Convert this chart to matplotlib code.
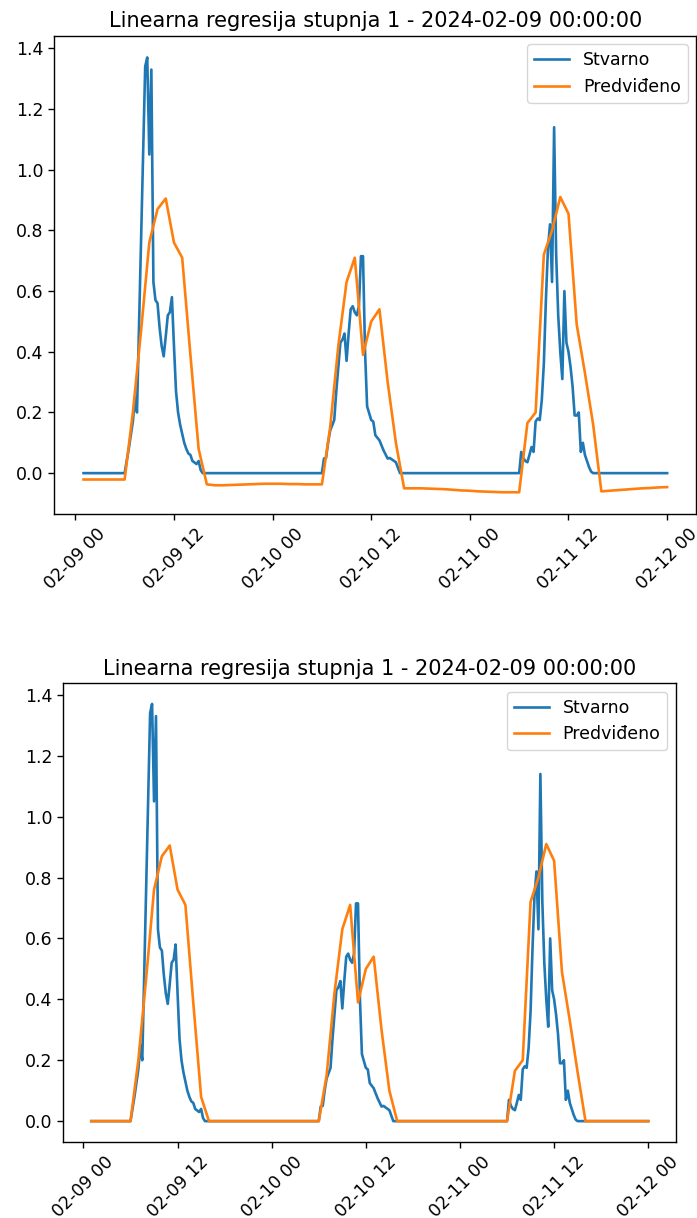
import matplotlib.pyplot as plt
import matplotlib.dates as mdates
import numpy as np
import pandas as pd

naslov = "Linearna regresija stupnja 1 - 2024-02-09 00:00:00"

# stvarna proizvodnja - tocke loma krivulje (nocu je 0)
stvarno_vrijeme = [
    "2024-02-09 01:00", "2024-02-09 06:00", "2024-02-09 06:30", "2024-02-09 07:00",
    "2024-02-09 07:15", "2024-02-09 07:30", "2024-02-09 08:30", "2024-02-09 08:45",
    "2024-02-09 09:00", "2024-02-09 09:15", "2024-02-09 09:30", "2024-02-09 09:45",
    "2024-02-09 10:00", "2024-02-09 10:15", "2024-02-09 10:30", "2024-02-09 10:45",
    "2024-02-09 11:00", "2024-02-09 11:15", "2024-02-09 11:30", "2024-02-09 11:45",
    "2024-02-09 12:00", "2024-02-09 12:15", "2024-02-09 12:30", "2024-02-09 12:45",
    "2024-02-09 13:00", "2024-02-09 13:15", "2024-02-09 13:30", "2024-02-09 13:45",
    "2024-02-09 14:00", "2024-02-09 14:15", "2024-02-09 14:30", "2024-02-09 14:45",
    "2024-02-09 15:00", "2024-02-09 15:15", "2024-02-09 15:30",
    "2024-02-10 06:00", "2024-02-10 06:15", "2024-02-10 06:30", "2024-02-10 06:45",
    "2024-02-10 07:00", "2024-02-10 07:30", "2024-02-10 07:45", "2024-02-10 08:15",
    "2024-02-10 08:30", "2024-02-10 08:45", "2024-02-10 09:00", "2024-02-10 09:15",
    "2024-02-10 09:30", "2024-02-10 09:45", "2024-02-10 10:00", "2024-02-10 10:15",
    "2024-02-10 10:30", "2024-02-10 10:45", "2024-02-10 11:00", "2024-02-10 11:15",
    "2024-02-10 11:30", "2024-02-10 12:00", "2024-02-10 12:15", "2024-02-10 12:30",
    "2024-02-10 13:00", "2024-02-10 13:30", "2024-02-10 14:00", "2024-02-10 14:15",
    "2024-02-10 15:00", "2024-02-10 15:30",
    "2024-02-11 06:00", "2024-02-11 06:15", "2024-02-11 06:30", "2024-02-11 06:45",
    "2024-02-11 07:00", "2024-02-11 07:15", "2024-02-11 07:30", "2024-02-11 07:45",
    "2024-02-11 08:00", "2024-02-11 08:15", "2024-02-11 08:30", "2024-02-11 08:45",
    "2024-02-11 09:00", "2024-02-11 09:15", "2024-02-11 09:30", "2024-02-11 09:45",
    "2024-02-11 10:00", "2024-02-11 10:15", "2024-02-11 10:30", "2024-02-11 10:45",
    "2024-02-11 11:00", "2024-02-11 11:15", "2024-02-11 11:30", "2024-02-11 11:45",
    "2024-02-11 12:00", "2024-02-11 12:15", "2024-02-11 12:30", "2024-02-11 12:45",
    "2024-02-11 13:00", "2024-02-11 13:15", "2024-02-11 13:30", "2024-02-11 13:45",
    "2024-02-11 14:00", "2024-02-11 14:15", "2024-02-11 14:30", "2024-02-11 14:45",
    "2024-02-11 15:00", "2024-02-12 00:00",
]
stvarno = [
    0, 0, 0.08, 0.17,
    0.25, 0.20, 1.34, 1.37,
    1.05, 1.33, 0.63, 0.57,
    0.56, 0.48, 0.42, 0.385,
    0.45, 0.52, 0.53, 0.58,
    0.42, 0.27, 0.20, 0.16,
    0.13, 0.10, 0.08, 0.065,
    0.06, 0.04, 0.035, 0.03,
    0.04, 0.01, 0,
    0, 0.048, 0.05, 0.10,
    0.14, 0.175, 0.27, 0.43,
    0.44, 0.46, 0.37, 0.46,
    0.54, 0.55, 0.53, 0.52,
    0.55, 0.715, 0.715, 0.40,
    0.22, 0.175, 0.17, 0.125,
    0.108, 0.075, 0.048, 0.05,
    0.036, 0,
    0, 0.07, 0.05, 0.04,
    0.036, 0.06, 0.086, 0.07,
    0.17, 0.18, 0.175, 0.24,
    0.36, 0.57, 0.74, 0.82,
    0.63, 1.14, 0.72, 0.52,
    0.40, 0.31, 0.60, 0.43,
    0.40, 0.35, 0.285, 0.19,
    0.19, 0.20, 0.07, 0.10,
    0.06, 0.04, 0.02, 0.005,
    0, 0,
]

# predvidjanje po satu, 2024-02-09 01:00 - 2024-02-12 00:00
predvideno_vrijeme = pd.date_range("2024-02-09 01:00", "2024-02-12 00:00", freq="h")
predvideno = [
    -0.021, -0.021, -0.021, -0.021, -0.021, -0.021,
    0.20, 0.47, 0.76, 0.87, 0.905, 0.76, 0.71, 0.39, 0.08, -0.037,
    -0.040, -0.040, -0.039, -0.038, -0.037, -0.036, -0.035,
    -0.035, -0.035, -0.036, -0.036, -0.037, -0.037, -0.037,
    0.15, 0.42, 0.63, 0.71, 0.39, 0.50, 0.54, 0.30, 0.10, -0.05,
    -0.050, -0.050, -0.051, -0.052, -0.053, -0.055, -0.057,
    -0.058, -0.060, -0.061, -0.062, -0.063, -0.063, -0.063,
    0.165, 0.20, 0.72, 0.80, 0.91, 0.855, 0.49, 0.33, 0.16, -0.06,
    -0.058, -0.056, -0.054, -0.052, -0.050, -0.049, -0.047, -0.046,
]

# slika je spremljena s vecim dpi pa smanjena - sve je malo krupnije
plt.rcParams["font.size"] = 12.5
plt.rcParams["axes.titlesize"] = 15
plt.rcParams["lines.linewidth"] = 1.9
plt.rcParams["axes.linewidth"] = 1.0
plt.rcParams["xtick.major.size"] = 4.4
plt.rcParams["ytick.major.size"] = 4.4
plt.rcParams["xtick.major.width"] = 1.0
plt.rcParams["ytick.major.width"] = 1.0


def crtaj(ax, t1, y1, t2, y2):
    ax.plot(t1, y1, label="Stvarno")
    ax.plot(t2, y2, label="Predviđeno")
    ax.set_title(naslov)
    ax.legend(loc="upper right")
    ax.xaxis.set_major_locator(mdates.HourLocator(byhour=[0, 12]))
    ax.xaxis.set_major_formatter(mdates.DateFormatter("%m-%d %H"))
    plt.setp(ax.get_xticklabels(), rotation=45)


t_stv = pd.to_datetime(stvarno_vrijeme)

fig = plt.figure(figsize=(6.97, 12.18), dpi=100)

# gornji graf - sirovo predvidjanje
ax1 = fig.add_axes([0.078, 0.578, 0.921, 0.3927])
crtaj(ax1, t_stv, stvarno, predvideno_vrijeme, predvideno)

# donji graf - negativne vrijednosti postavljene na 0
ax2 = fig.add_axes([0.091, 0.0624, 0.879, 0.3768])
crtaj(ax2, t_stv, stvarno, predvideno_vrijeme, np.clip(predvideno, 0, None))

fig.savefig("out.png", dpi=100)
